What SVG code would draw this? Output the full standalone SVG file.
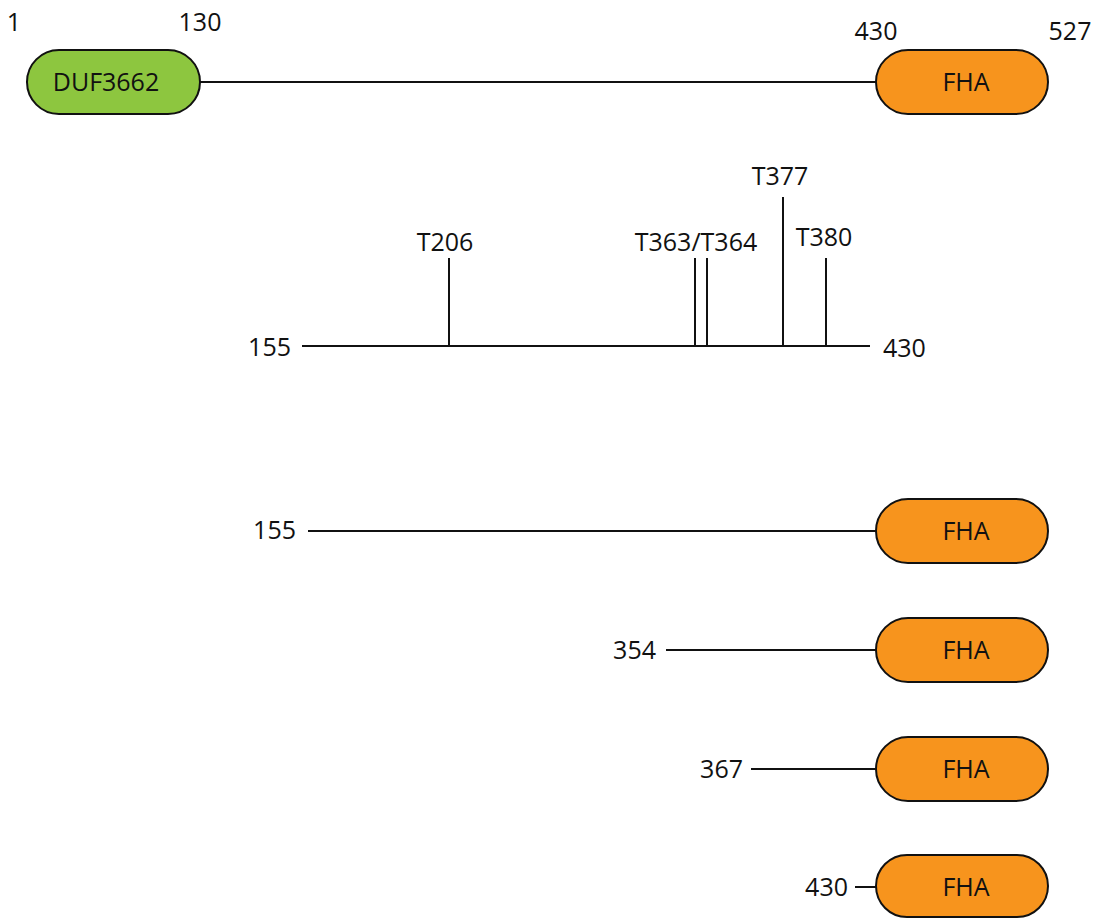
<svg xmlns="http://www.w3.org/2000/svg" width="1101" height="918" viewBox="0 0 1101 918">
<style>
text{font-family:"Open Sans","Liberation Sans",sans-serif;font-size:25px;fill:#111}
.c{text-anchor:middle}.r{text-anchor:end}
line{stroke:#111;stroke-width:2}
.dom{stroke:#111;stroke-width:2}
.g{fill:#8dc63f}.o{fill:#f7941d}
</style>
<rect width="1101" height="918" fill="#fff"/>
<g id="connectors">
<line x1="200" y1="82" x2="876" y2="82"/>
<line x1="302" y1="346" x2="870" y2="346"/>
<line x1="449" y1="258" x2="449" y2="346"/>
<line x1="695" y1="258" x2="695" y2="346"/>
<line x1="707" y1="258" x2="707" y2="346"/>
<line x1="783" y1="197" x2="783" y2="346"/>
<line x1="826" y1="258" x2="826" y2="346"/>
<line x1="308" y1="531" x2="876" y2="531"/>
<line x1="666" y1="650" x2="876" y2="650"/>
<line x1="751" y1="769" x2="876" y2="769"/>
<line x1="855" y1="887" x2="876" y2="887"/>
</g>
<g id="duf3662"><rect class="dom g" x="27" y="50" width="173" height="64" rx="32"/><text class="c" x="106" y="91">DUF3662</text></g>
<g id="fha0"><rect class="dom o" x="876" y="50" width="172" height="64" rx="32"/><text class="c" x="966" y="91">FHA</text></g>
<g id="fha1"><rect class="dom o" x="876" y="499" width="172" height="64" rx="32"/><text class="c" x="966" y="540">FHA</text></g>
<g id="fha2"><rect class="dom o" x="876" y="618" width="172" height="64" rx="32"/><text class="c" x="966" y="659">FHA</text></g>
<g id="fha3"><rect class="dom o" x="876" y="737" width="172" height="64" rx="32"/><text class="c" x="966" y="778">FHA</text></g>
<g id="fha4"><rect class="dom o" x="876" y="855" width="172" height="62" rx="31"/><text class="c" x="966" y="896">FHA</text></g>
<g id="labels">
<text class="c" x="14" y="31">1</text>
<text class="c" x="200" y="31">130</text>
<text class="c" x="876" y="40">430</text>
<text class="c" x="1070" y="40">527</text>
<text class="c" x="445" y="251">T206</text>
<text class="c" x="696" y="251">T363/T364</text>
<text class="c" x="780" y="185">T377</text>
<text class="c" x="824" y="246">T380</text>
<text class="r" x="291" y="356">155</text>
<text x="883" y="357">430</text>
<text class="r" x="296" y="539">155</text>
<text class="r" x="656" y="659">354</text>
<text class="r" x="743" y="778">367</text>
<text class="r" x="848" y="896">430</text>
</g>
</svg>
